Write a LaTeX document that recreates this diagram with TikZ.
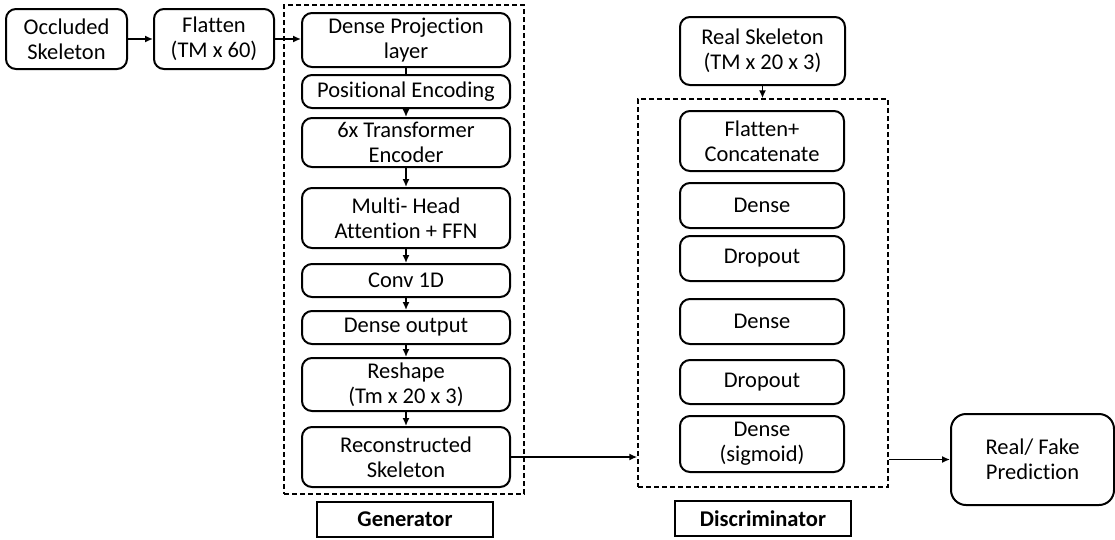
\documentclass[tikz,border=0pt]{standalone}
\usepackage{fontspec}
\setmainfont{Carlito}[Ligatures=NoCommon]
\usetikzlibrary{arrows.meta}

\begin{document}
\begin{tikzpicture}[x=1pt,y=-1pt,
  font=\fontsize{22.5}{25}\selectfont,
  layer/.style={draw,line width=2pt,rounded corners=10pt,align=center,inner sep=0pt},
  group/.style={draw,line width=1.4pt,dash pattern=on 5pt off 3pt,inner sep=0pt},
  tag/.style={draw,line width=2pt,inner sep=0pt,minimum width=176pt,minimum height=35pt,font=\fontsize{22.5}{25}\selectfont\bfseries},
  link/.style={line width=1.5pt,-{Latex[length=8pt,width=7pt]}}]
\useasboundingbox (0,0) rectangle (1115,539);
\node[group,minimum width=240pt,minimum height=489pt] (gen) at (404,249.5) {};
\node[group,minimum width=250pt,minimum height=388pt] (disc) at (763,293) {};
\node[layer,minimum width=121pt,minimum height=60pt] (occ) at (66.5,39) {Occluded\\Skeleton};
\node[layer,minimum width=120pt,minimum height=60pt] (flat) at (214,39) {Flatten\\(TM x 60)};
\node[layer,minimum width=208pt,minimum height=54pt] (dproj) at (406,40) {Dense Projection\\layer};
\node[layer,minimum width=208pt,minimum height=33pt] (posenc) at (406,91.5) {Positional Encoding};
\node[layer,minimum width=208pt,minimum height=49pt] (trans) at (406,142.5) {6x Transformer\\Encoder};
\node[layer,minimum width=208pt,minimum height=60pt] (mha) at (406,218) {Multi- Head\\Attention + FFN};
\node[layer,minimum width=208pt,minimum height=33pt] (conv) at (406,280.5) {Conv 1D};
\node[layer,minimum width=208pt,minimum height=33pt] (dout) at (406,327.5) {Dense output};
\node[layer,minimum width=208pt,minimum height=53pt] (reshape) at (406,384.5) {Reshape\\(Tm x 20 x 3)};
\node[layer,minimum width=208pt,minimum height=60pt] (recon) at (406,457) {Reconstructed\\Skeleton};
\node[tag] (genlabel) at (405,519.5) {Generator};
\node[layer,minimum width=165pt,minimum height=68pt] (real) at (762.5,51) {Real Skeleton\\(TM x 20 x 3)};
\node[layer,minimum width=164pt,minimum height=60pt] (flatcat) at (762,141) {Flatten+\\Concatenate};
\node[layer,minimum width=164pt,minimum height=45pt] (dense1) at (762,205.5) {Dense};
\node[layer,minimum width=164pt,minimum height=45pt] (drop1) at (762,258.5) {Dropout};
\node[layer,minimum width=164pt,minimum height=45pt] (dense2) at (762,321.5) {Dense};
\node[layer,minimum width=164pt,minimum height=44pt] (drop2) at (762,382) {Dropout};
\node[layer,minimum width=164pt,minimum height=56pt] (dsig) at (762,444) {Dense\\(sigmoid)};
\node[tag] (disclabel) at (763,518.5) {Discriminator};
\node[layer,rounded corners=15pt,minimum width=163pt,minimum height=91pt] (pred) at (1032.5,459.5) {Real/ Fake\\Prediction};
\draw[link] (occ) -- (flat);
\draw[link] (flat.east) -- (flat.east -| dproj.west);
\draw[line width=1.5pt] (dproj) -- (posenc);
\draw[link] (posenc) -- (trans);
\draw[link] (trans) -- (mha);
\draw[link] (mha) -- (conv);
\draw[link] (conv) -- (dout);
\draw[link] (dout) -- (reshape);
\draw[link] (reshape) -- (recon);
\draw[link] (recon.east) -- (recon.east -| disc.west);
\draw[link] (real.south) -- (real.south |- disc.north);
\draw[link] (disc.east |- pred) -- (pred.west);
\end{tikzpicture}
\end{document}
